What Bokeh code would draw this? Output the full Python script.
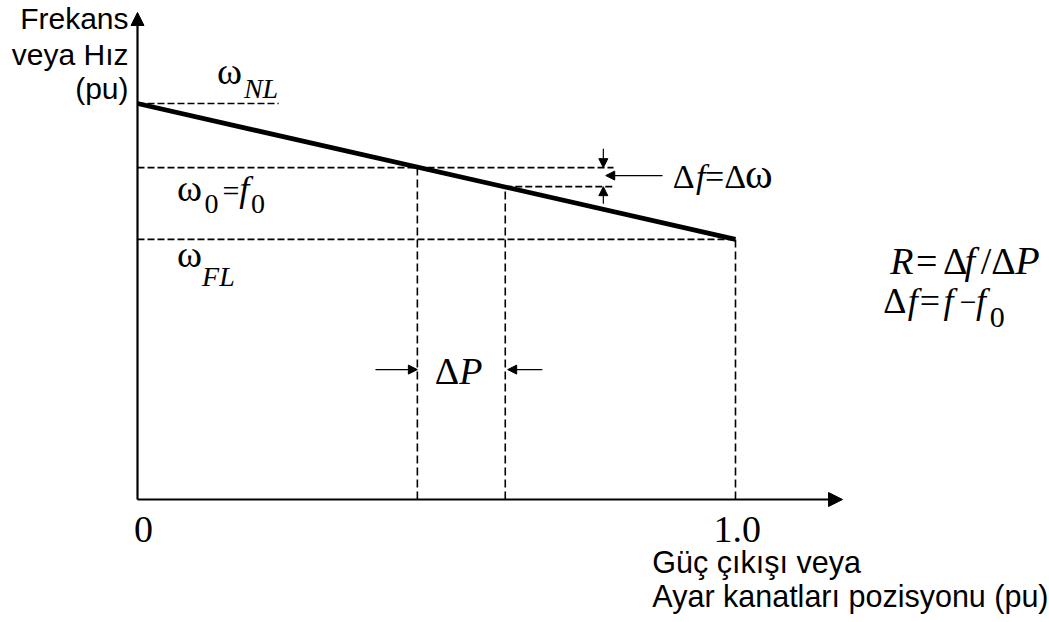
from bokeh.plotting import figure
from bokeh.models import Range1d, Arrow, NormalHead
from bokeh.core.properties import value
from bokeh.embed import file_html
from bokeh.resources import INLINE

# Speed-droop characteristic of a governor (per unit)
power = [0.0, 1.0]            # power output / gate position
freq = [1.0, 0.657]           # no-load and full-load speed
p_op = [0.468, 0.615]         # two operating points on the droop line
f_op = [0.838, 0.790]         # omega_0 = f_0 and the new frequency f

w_nl, w_fl = freq
p0, p1 = p_op
w0, f1 = f_op

SERIF = value("Liberation Serif")
SANS = value("Liberation Sans")
Y_PER_PX = 1 / 396.0

p = figure(width=1049, height=622, output_backend="svg", toolbar_location=None,
           x_range=Range1d(-0.2291, 1.5251), y_range=Range1d(-0.3106, 1.2601),
           x_axis_type=None, y_axis_type=None, min_border=0,
           outline_line_color=None, background_fill_color="white",
           border_fill_color="white")


def head(size):
    return NormalHead(size=size, fill_color="black", line_color="black", line_width=1)


def arrow(xs, ys, xe, ye, size, width=1.2):
    p.add_layout(Arrow(end=head(size), x_start=xs, y_start=ys, x_end=xe, y_end=ye,
                       line_color="black", line_width=width))


# axes with arrow heads
arrow(0, 0, 0, 1.2298, 13, 2.2)
arrow(0, 0, 1.179, 0, 14, 2.2)

# dashed guide lines
dash_h = dict(line_color="black", line_width=1.6, line_dash="7 3")
p.line([0, 0.236], [w_nl, w_nl], **dash_h)
p.line([0, 0.796], [w0, w0], **dash_h)
p.line([p1, 0.796], [f1, f1], **dash_h)
p.line([0, power[1]], [w_fl, w_fl], **dash_h)
dash_v = dict(line_color="black", line_width=1.6, line_dash="8 4")
p.line([p0, p0], [0, w0], **dash_v)
p.line([p1, p1], [0, f1], **dash_v)
p.line([power[1], power[1]], [0, w_fl], **dash_v)

# droop line
p.line(power, freq, line_color="black", line_width=4.8)

# delta-f markers
arrow(0.779, 0.886, 0.779, w0, 9)
arrow(0.779, 0.747, 0.779, f1, 9)
arrow(0.878, (w0 + f1) / 2 + 0.004, 0.783, (w0 + f1) / 2 + 0.004, 9)
# delta-P markers
arrow(0.398, 0.328, p0, 0.328, 9)
arrow(0.677, 0.328, p1 + 0.004, 0.328, 9)


def put(x, y, s, size, font=SERIF, style="normal", align="left"):
    # lift by a fraction of the font size so the glyph baseline sits on y
    y = y + 0.33 * size * Y_PER_PX
    p.text(x=[x], y=[y], text=[s], text_font=font, text_font_size=f"{size}px",
           text_font_style=style, text_align=align, text_baseline="alphabetic",
           text_color="black")


# axis titles
put(-0.015, 1.189, "Frekans", 30, SANS, align="right")
put(-0.015, 1.098, "veya Hız", 30, SANS, align="right")
put(-0.015, 1.013, "(pu)", 30, SANS, align="right")
put(0.861, -0.184, "Güç çıkışı veya", 30.5, SANS)
put(0.861, -0.270, "Ayar kanatları pozisyonu (pu)", 30.5, SANS)

# tick labels
put(0.010, -0.1086, "0", 38, align="center")
put(1.003, -0.1086, "1.0", 38, align="center")

# speed labels
put(0.133, 1.0505, "ω", 38)
put(0.178, 1.015, "NL", 28, style="italic")
put(0.066, 0.755, "ω", 38)
put(0.112, 0.722, "0", 28)
put(0.142, 0.755, "=", 30)
put(0.170, 0.755, "f", 36, style="italic")
put(0.190, 0.722, "0", 28)
put(0.066, 0.588, "ω", 38)
put(0.108, 0.540, "FL", 28, style="italic")

# delta f = delta omega
put(0.895, 0.788, "Δ", 34)
put(0.934, 0.788, "f", 34, style="italic")
put(0.949, 0.788, "=Δ", 34)
put(1.016, 0.788, "ω", 42)

# delta P
put(0.497, 0.293, "Δ", 38)
put(0.538, 0.293, "P", 38, style="italic")

# droop definition
put(1.259, 0.571, "R", 38, style="italic")
put(1.302, 0.571, "=", 38)
put(1.347, 0.571, "Δ", 38)
put(1.383, 0.571, "f", 38, style="italic")
put(1.410, 0.571, "/Δ", 38)
put(1.468, 0.571, "P", 40, style="italic")
put(1.247, 0.472, "Δ", 36)
put(1.288, 0.472, "f", 36, style="italic")
put(1.308, 0.472, "=", 36)
put(1.348, 0.472, "f", 36, style="italic")
put(1.375, 0.472, "−", 30)
put(1.402, 0.472, "f", 36, style="italic")
put(1.425, 0.434, "0", 30)

open("out.html", "w").write(file_html(p, INLINE))
